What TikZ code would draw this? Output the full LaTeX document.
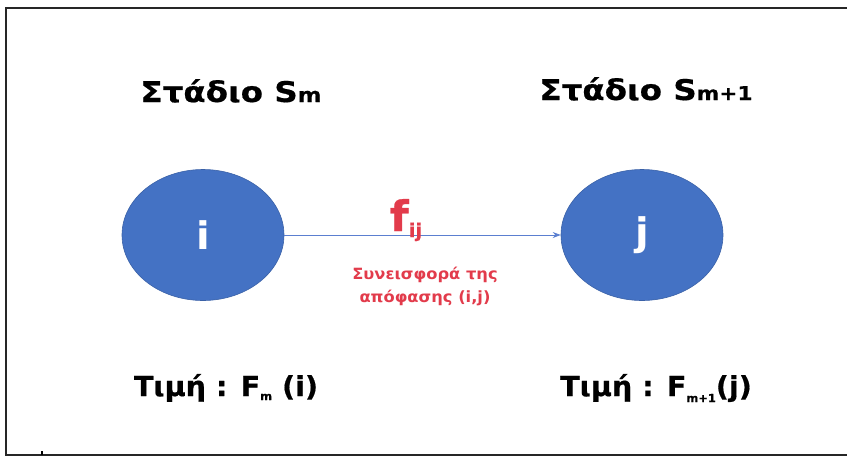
\documentclass[tikz,border=0pt]{standalone}
\usepackage{fontspec}
\setmainfont{DejaVu Sans}
\newfontfamily\headfont[FakeStretch=1.14,FakeBold=0.6]{DejaVu Sans Bold}
\newfontfamily\valfont[FakeStretch=1.04,FakeBold=0.6]{DejaVu Sans Bold}
\newfontfamily\notefont[FakeStretch=1.05]{DejaVu Sans Bold}
\usetikzlibrary{arrows.meta,shapes.geometric}
\definecolor{nodeblue}{HTML}{4472C4}
\definecolor{arcblue}{HTML}{5B7FD0}
\definecolor{labelred}{HTML}{E23B4B}
\begin{document}
\begin{tikzpicture}[x=1pt,y=-1pt,
  statenode/.style={ellipse, fill=nodeblue, draw=nodeblue!85!black, line width=0.6pt,
    minimum width=162pt, minimum height=131pt,
    inner sep=0pt, text=white, font=\notefont\fontsize{38}{40}\selectfont},
  headtext/.style={font=\headfont\fontsize{28.5}{30}\selectfont, anchor=base},
  valtext/.style={font=\valfont\fontsize{27.5}{30}\selectfont, anchor=base},
  notetext/.style={text=labelred, font=\notefont\fontsize{15.5}{23}\selectfont, align=center},
  frameline/.style={line width=2pt, black!85}]
\useasboundingbox (0,0) rectangle (847,459);
% outer frame (open on the right)
\draw[frameline] (847,8) -- (6,8) -- (6,455) -- (847,455);
\draw[line width=1.2pt] (42,451) -- (42,455);
% headings
\node[headtext] (hm) at (231,102) {Στάδιο S{\fontsize{20}{20}\selectfont m}};
\node[headtext] (hn) at (646,100) {Στάδιο S{\fontsize{19}{20}\selectfont m+1}};
% states
\node[statenode] (i) at (203,235) {i};
\node[statenode] (j) at (642,235) {j};
% decision arc
\draw[arcblue, line width=0.8pt, -{Stealth[length=8pt,width=6pt]}] (i) -- (j);
\node[text=labelred, font=\valfont\fontsize{42}{44}\selectfont, anchor=base] (f) at (406,231)
  {f\raisebox{-6pt}{\fontsize{19}{20}\selectfont ij}};
\node[notetext] (note) at (425,286) {Συνεισφορά της\\απόφασης (i,j)};
% values
\node[valtext] (vm) at (226,396) {Τιμή : F\raisebox{-4pt}{\fontsize{11}{12}\selectfont m} (i)};
\node[valtext] (vn) at (656,396) {Τιμή : F\raisebox{-6pt}{\fontsize{11}{12}\selectfont m+1}(j)};
\end{tikzpicture}
\end{document}
